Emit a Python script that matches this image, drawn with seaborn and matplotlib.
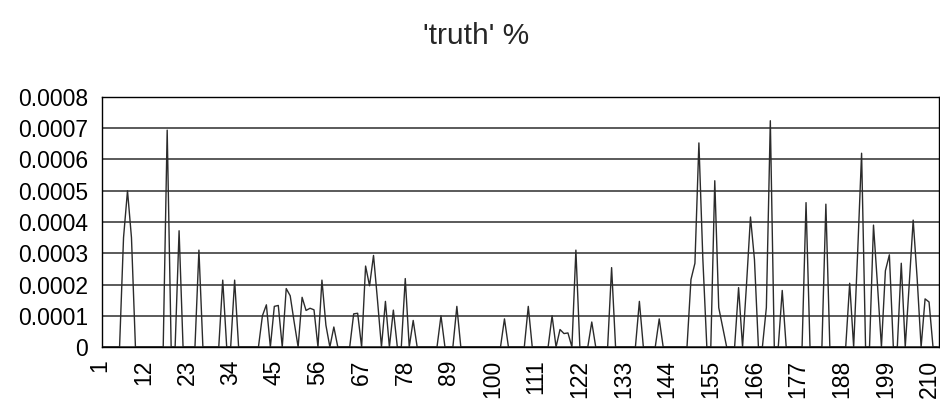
import numpy as np
import pandas as pd
import matplotlib
matplotlib.use('Agg')
import matplotlib.pyplot as plt
import matplotlib.transforms as mtransforms
import seaborn as sns

# share of 'truth' per position (211 positions)
truth_pct = [
    0, 0, 0, 0, 0, 0.00035, 0.0005, 0.00035, 0, 0,                                   # 1-10
    0, 0, 0, 0, 0, 0, 0.000694, 0, 0, 0.000372,                                      # 11-20
    0, 0, 0, 0, 0.00031, 0, 0, 0, 0, 0,                                              # 21-30
    0.000214, 0, 0, 0.000214, 0, 0, 0, 0, 0, 0,                                      # 31-40
    0.0001, 0.000135, 0, 0.00013, 0.000133, 0, 0.000187, 0.000164, 0.00008, 0,       # 41-50
    0.000159, 0.000117, 0.000124, 0.000119, 0, 0.000214, 0.00007, 0, 0.000064, 0,    # 51-60
    0, 0, 0, 0.000106, 0.000108, 0, 0.000259, 0.000196, 0.000293, 0.00015,           # 61-70
    0, 0.000146, 0, 0.000118, 0, 0, 0.000219, 0, 0.000085, 0,                        # 71-80
    0, 0, 0, 0, 0, 0.0001, 0, 0, 0, 0.00013,                                         # 81-90
    0, 0, 0, 0, 0, 0, 0, 0, 0, 0,                                                    # 91-100
    0, 0.00009, 0, 0, 0, 0, 0, 0.00013, 0, 0,                                        # 101-110
    0, 0, 0, 0.0001, 0, 0.000056, 0.000043, 0.000045, 0, 0.00031,                    # 111-120
    0, 0, 0, 0.00008, 0, 0, 0, 0, 0.000254, 0,                                       # 121-130
    0, 0, 0, 0, 0, 0.000146, 0, 0, 0, 0,                                             # 131-140
    0.00009, 0, 0, 0, 0, 0, 0, 0, 0.000216, 0.000268,                                # 141-150
    0.000653, 0.00028, 0, 0, 0.000532, 0.000126, 0.000063, 0, 0, 0,                  # 151-160
    0.00019, 0, 0.0002, 0.000416, 0.00028, 0, 0, 0.000126, 0.000724, 0,              # 161-170
    0, 0.000181, 0, 0, 0, 0, 0, 0.000462, 0, 0,                                      # 171-180
    0, 0, 0.000457, 0, 0, 0, 0, 0, 0.000204, 0,                                      # 181-190
    0.0003, 0.00062, 0, 0, 0.00039, 0.0002, 0, 0.000244, 0.000295, 0,                # 191-200
    0, 0.000268, 0, 0.0002, 0.000406, 0.00022, 0, 0.000154, 0.000144, 0,             # 201-210
    0,                                                                               # 211
]
positions = list(range(1, len(truth_pct) + 1))

x_tick_pos = [1, 12, 23, 34, 45, 56, 67, 78, 89, 100, 111, 122, 133, 144, 155, 166, 177, 188, 199, 210]
y_ticks = [0, 0.0001, 0.0002, 0.0003, 0.0004, 0.0005, 0.0006, 0.0007, 0.0008]
y_tick_labels = ['0', '0.0001', '0.0002', '0.0003', '0.0004', '0.0005', '0.0006', '0.0007', '0.0008']

df = pd.DataFrame({'position': positions, 'truth': truth_pct})

sns.set_style('white')
plt.rcParams['font.family'] = ['Liberation Sans', 'DejaVu Sans']

fig = plt.figure(figsize=(9.4, 4.07), dpi=100)
ax = fig.add_axes([0.1082, 0.1474, 0.8907, 0.6143])

sns.lineplot(data=df, x='position', y='truth', color='#2b2b2b', linewidth=1.0, ax=ax)

ax.set_xlim(0.5, len(truth_pct) + 0.5)
ax.set_ylim(0, 0.0008)

# horizontal gridlines behind the line
ax.set_yticks(y_ticks)
ax.set_yticklabels(y_tick_labels, fontsize=16.5)
ax.grid(axis='y', color='#2e2e2e', linewidth=1.1)
ax.grid(axis='x', visible=False)
ax.set_axisbelow(True)

# category labels, small ticks at category boundaries
ax.set_xticks(x_tick_pos)
ax.set_xticklabels([str(p) for p in x_tick_pos], rotation=90, fontsize=16.5)
ax.set_xticks(np.arange(0.5, len(truth_pct) + 1, 1.0), minor=True)
ax.tick_params(axis='x', which='major', length=0, pad=9)
ax.tick_params(axis='x', which='minor', length=5, width=0.8, color='black', direction='out')
ax.tick_params(axis='y', which='major', length=6, width=0.8, color='black', direction='out', pad=4)
ax.tick_params(colors='black', which='both')

# the labels sit a little left of their category
shift = mtransforms.ScaledTranslation(-4 / 100, 0, fig.dpi_scale_trans)
for lbl in ax.get_xticklabels():
    lbl.set_transform(lbl.get_transform() + shift)

for s in ax.spines.values():
    s.set_color('black')
    s.set_linewidth(1.0)

ax.set_xlabel('')
ax.set_ylabel('')

fig.text(0.507, 0.912, "'truth' %", ha='center', va='center', fontsize=21.5)

fig.savefig('out.png', dpi=100)
